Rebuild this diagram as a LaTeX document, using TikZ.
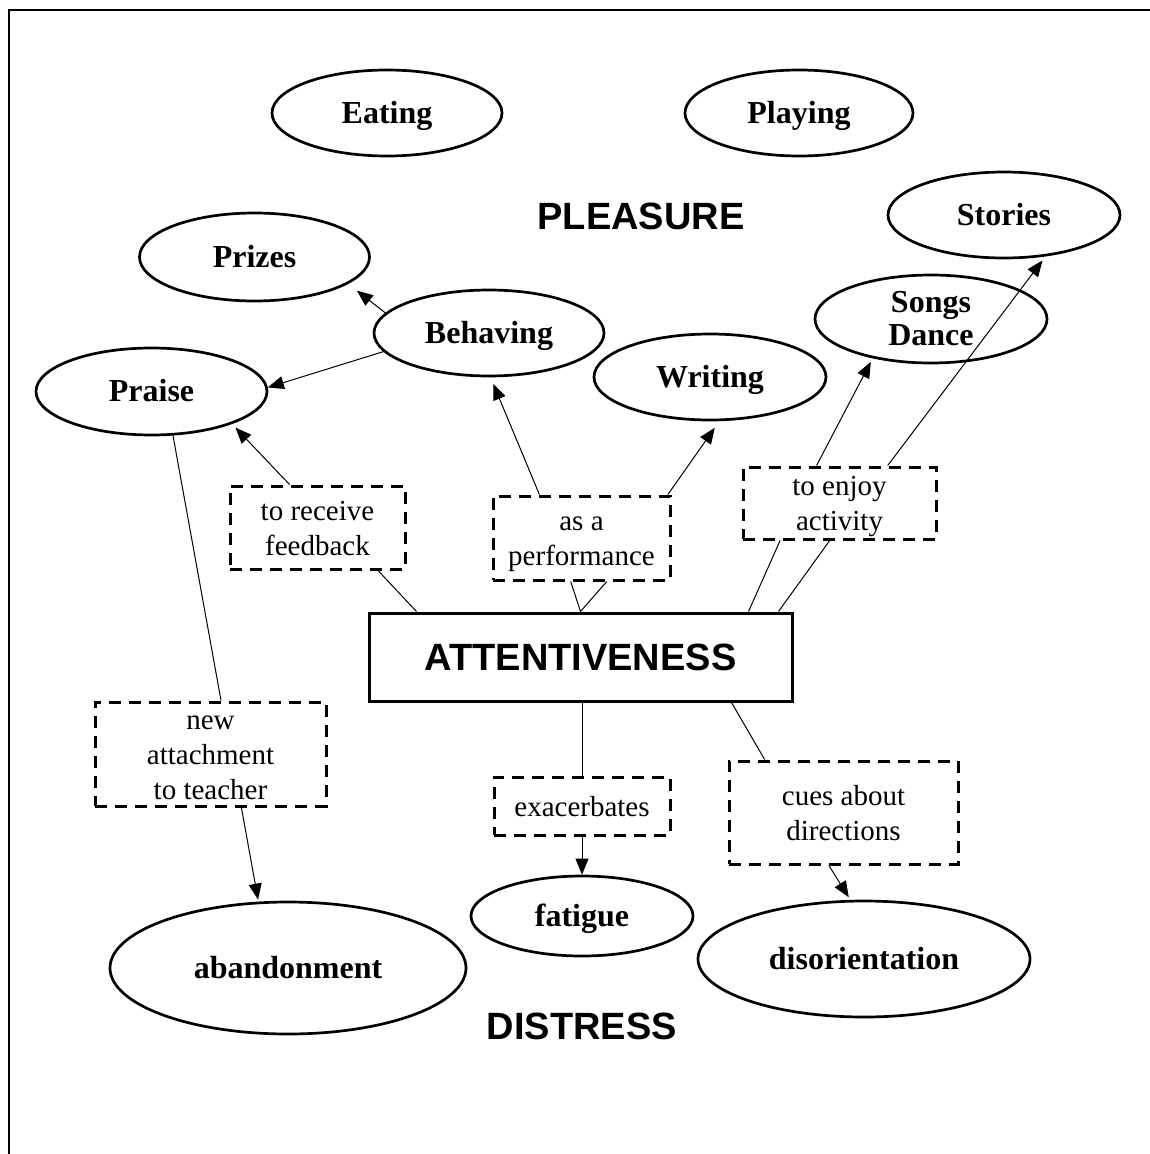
\documentclass[tikz,border=0pt]{standalone}
\usepackage{fontspec}
\setmainfont{Liberation Serif}
\newfontfamily\headfont{Liberation Sans}
\usetikzlibrary{shapes.geometric,arrows.meta,calc}
\newcommand{\ml}[2]{\raisebox{-#1}[0pt][0pt]{\begin{tabular}[b]{@{}c@{}}#2\end{tabular}}}
\begin{document}
\begin{tikzpicture}[x=1pt,y=-1pt,
  oval/.style={ellipse, draw, line width=2.7pt, inner sep=0pt, font=\fontsize{32}{33}\selectfont\bfseries,
    text height=30pt, text depth=10pt},
  lbox/.style={draw, dash pattern=on 12pt off 8pt, line width=3pt, inner sep=0pt, font=\fontsize{29}{35}\selectfont,
    text height=30pt, text depth=10pt},
  conn/.style={line width=1pt},
  arr/.style={line width=1pt, -{Triangle[length=16pt,width=13pt]}},
  head/.style={font=\headfont\bfseries\fontsize{38}{40}\selectfont}
]
\useasboundingbox (0,0) rectangle (1149,1154);
\fill[white] (0,0) rectangle (1149,1154);
\draw[line width=1.8pt] (9,1160) -- (9,10) -- (1160,10);

% ellipses
\node[oval, minimum width=230pt, minimum height=86pt] (Eating) at (387,113) {Eating};
\node[oval, minimum width=228pt, minimum height=86pt] (Playing) at (799,113) {Playing};
\node[oval, minimum width=232pt, minimum height=86pt] (Stories) at (1004,215) {Stories};
\node[oval, minimum width=230pt, minimum height=88pt] (Prizes) at (254.5,257) {Prizes};
\node[oval, minimum width=230pt, minimum height=86pt] (Behaving) at (489,333) {Behaving};
\node[oval, minimum width=232pt, minimum height=88pt] (Songs) at (931,319) {\ml{16.5pt}{Songs\\Dance}};
\node[oval, minimum width=232pt, minimum height=86pt] (Writing) at (710,377) {Writing};
\node[oval, minimum width=231pt, minimum height=87pt] (Praise) at (151.5,391.5) {Praise};
\node[oval, minimum width=222pt, minimum height=80pt] (fatigue) at (582,916) {fatigue};
\node[oval, minimum width=356pt, minimum height=132pt] (abandonment) at (288,968) {abandonment};
\node[oval, minimum width=332pt, minimum height=116pt] (disorientation) at (864,959) {disorientation};

% headings
\node[head] (pleasure) at (641,216) {PLEASURE};
\node[head] (distress) at (582,1026) {DISTRESS};
\node[head, draw, line width=3pt, minimum width=423pt, minimum height=88pt, inner sep=0pt,
  text height=36pt, text depth=10pt] (att) at (580.5,657) {ATTENTIVENESS};

% dashed label boxes
\node[lbox, minimum width=175pt, minimum height=83pt] (fb) at (317.5,527.5) {\ml{17.5pt}{to receive\\feedback}};
\node[lbox, minimum width=177pt, minimum height=84pt] (perf) at (581.5,538) {\ml{17.5pt}{as a\\performance}};
\node[lbox, minimum width=193pt, minimum height=72pt] (enj) at (839.5,503) {\ml{17pt}{to enjoy\\activity}};
\node[lbox, minimum width=231pt, minimum height=104pt] (newatt) at (210.5,754) {\ml{35pt}{new\\attachment\\to teacher}};
\node[lbox, minimum width=176pt, minimum height=58pt] (exac) at (582,806) {exacerbates};
\node[lbox, minimum width=229pt, minimum height=103pt] (cues) at (843.5,812.5) {\ml{18pt}{cues about\\directions}};

% connectors
\draw[arr, shorten >=11pt] (Behaving.169) -- (Prizes.-16);
\draw[arr] (Behaving.190) -- (Praise.2);
\draw[arr, shorten >=5pt] ($(fb.north west)!0.343!(fb.north east)$) -- (Praise.-22);
\draw[conn] (Praise.-64) -- ($(newatt.north west)!0.545!(newatt.north east)$);
\draw[arr, shorten >=2pt] ($(newatt.south west)!0.632!(newatt.south east)$) -- (abandonment.114);
\draw[conn] ([xshift=49pt]att.north west) -- ($(fb.south west)!0.84!(fb.south east)$);
\draw[conn] (att.north) -- ($(perf.south west)!0.44!(perf.south east)$);
\draw[conn] (att.north) -- ($(perf.south west)!0.64!(perf.south east)$);
\draw[arr, shorten >=7pt] ($(perf.north west)!0.266!(perf.north east)$) -- (Behaving.-88);
\draw[arr, shorten >=8pt] ($(perf.north west)!0.98!(perf.north east)$) -- (Writing.-78);
\draw[conn] ([xshift=-45pt]att.north east) -- ($(enj.south west)!0.197!(enj.south east)$);
\draw[conn] ([xshift=-15pt]att.north east) -- ($(enj.south west)!0.45!(enj.south east)$);
\draw[arr, shorten >=4pt] ($(enj.north west)!0.383!(enj.north east)$) -- (Songs.214);
\draw[arr, shorten >=5pt] ($(enj.north west)!0.746!(enj.north east)$) -- (Stories.-45);
\draw[conn] (exac.north |- att.south) -- (exac.north);
\draw[arr] (exac.south) -- (fatigue.north);
\draw[conn] ([xshift=-62pt]att.south east) -- ($(cues.north west)!0.16!(cues.north east)$);
\draw[arr, shorten >=3pt] ($(cues.south west)!0.437!(cues.south east)$) -- (disorientation.103);
\end{tikzpicture}
\end{document}
